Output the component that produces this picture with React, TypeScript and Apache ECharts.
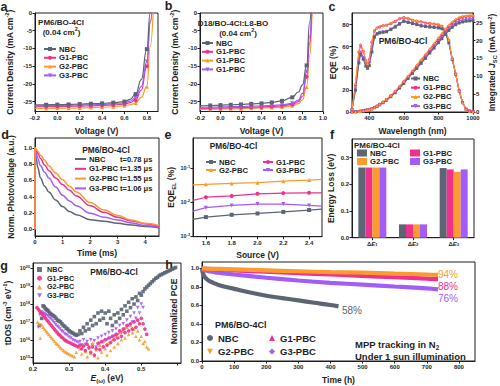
import React, { useEffect, useRef } from 'react';
import * as echarts from 'echarts';

const FONT = '"Liberation Sans", Arial, Helvetica, sans-serif';
const INK = '#1e1e1e';
const C_NBC = '#5b6573';
const C_G1 = '#f0308c';
const C_G2 = '#fb9b2d';
const C_G3 = '#a35cf7';
const DOWN = 'path://M0,0L10,0L5,9Z';

// ---------- a: J-V PM6/BO-4Cl ----------
const aV = [-0.2, -0.1, 0, 0.1, 0.2, 0.3, 0.4, 0.5, 0.6, 0.65, 0.7, 0.75, 0.8, 0.83, 0.86];
const aNBC = [-25.95, -25.9, -25.85, -25.8, -25.7, -25.6, -25.5, -25.3, -25.0, -24.4, -22.9, -18.8, -10.2, 0.0, 9.0];
const aG1 = [-26.5, -26.45, -26.4, -26.35, -26.3, -26.2, -26.1, -25.95, -25.7, -25.3, -24.6, -21.8, -15.0, -2.5, 9.0];
const aG2 = [-27.0, -26.95, -26.9, -26.85, -26.8, -26.7, -26.6, -26.45, -26.2, -25.9, -25.4, -23.8, -20.8, -9.5, 3.0];
const aG3 = [-26.2, -26.15, -26.1, -26.05, -26.0, -25.9, -25.8, -25.6, -25.35, -24.9, -23.9, -20.8, -13.7, -2.9, 9.0];
const aMarks = [-0.1, 0, 0.1, 0.2, 0.3, 0.4, 0.5, 0.6, 0.7, 0.8];

// ---------- b: J-V D18/BO-4Cl:L8-BO ----------
const bV = [-0.2, -0.1, 0, 0.1, 0.2, 0.3, 0.4, 0.5, 0.6, 0.7, 0.76, 0.8, 0.84, 0.87, 0.9, 0.93];
const bNBC = [-26.2, -26.1, -26.0, -25.9, -25.8, -25.65, -25.5, -25.25, -24.8, -23.8, -22.3, -20.3, -14.8, -2.5, 6, 12];
const bG1 = [-26.9, -26.85, -26.8, -26.75, -26.7, -26.6, -26.5, -26.4, -26.2, -25.8, -25.0, -23.5, -18.0, -8.5, 2, 12];
const bG2 = [-27.2, -27.15, -27.1, -27.05, -27.0, -26.9, -26.8, -26.7, -26.55, -26.2, -25.6, -24.5, -20.9, -12.0, 0, 10];
const bG3 = [-26.6, -26.55, -26.5, -26.45, -26.4, -26.3, -26.2, -26.1, -25.9, -25.5, -24.6, -22.7, -16.5, -6.5, 3.5, 12];
const bMarks = [-0.1, 0, 0.1, 0.2, 0.3, 0.4, 0.5, 0.6, 0.7, 0.84];

// ---------- c: EQE and integrated Jsc ----------
const cWl = [300, 320, 340, 350, 365, 380, 390, 400, 415, 430, 445, 460, 480, 500, 525, 550, 575, 600, 625, 650, 675, 700, 725, 750, 775, 800, 820, 840, 860, 880, 900, 920, 940, 960, 980, 1000];
const cEqeNBC = [2, 20, 45, 53, 48.5, 42, 40, 42.5, 55, 68.5, 71.5, 72.5, 73, 73.5, 75.5, 77.8, 80.5, 83, 82, 81, 80, 78.8, 78.3, 77.8, 77.4, 77, 76.3, 72.6, 63.4, 48, 34.5, 19, 8.5, 2.5, 0.8, 0.3];
const cEqeG1 = [2.5, 25, 55, 61, 55.5, 47, 44, 48, 64, 74.5, 77, 78, 79, 79.5, 81, 83, 85.5, 86.5, 85.5, 84, 83, 82.5, 81.5, 81, 80.5, 79.8, 78.5, 74.8, 65.5, 48.6, 34.8, 19.4, 8.6, 2.5, 0.8, 0.3];
const cEqeG2 = [2.5, 26, 56, 62, 56, 47.5, 44.5, 48.5, 65, 75, 77.5, 78.5, 79.4, 80, 81.5, 83.5, 86, 87, 86, 84.5, 83.5, 83, 82, 81.5, 81, 80.3, 79, 75.2, 66, 49, 35, 19.5, 8.7, 2.6, 0.8, 0.3];
const cEqeG3 = [2, 21, 47, 55, 50, 43.5, 41.5, 44, 57, 69.5, 72, 73, 73.5, 74, 76, 78.5, 81, 83.5, 82.5, 81.5, 80.5, 79.3, 78.8, 78.3, 77.8, 77.5, 76.8, 73, 64, 48.3, 34.6, 19.2, 8.5, 2.5, 0.8, 0.3];
const cJNBC = [0, 0.05, 0.15, 0.2, 0.3, 0.45, 0.5, 0.6, 0.85, 1.2, 1.55, 2.0, 2.6, 3.3, 4.3, 5.4, 6.7, 8.0, 9.4, 10.8, 12.2, 13.6, 15.0, 16.5, 17.9, 19.4, 20.5, 21.7, 22.8, 23.7, 24.4, 24.9, 25.2, 25.4, 25.5, 25.6];
const cJG1 = [0, 0.05, 0.16, 0.22, 0.33, 0.5, 0.56, 0.66, 0.93, 1.3, 1.68, 2.15, 2.8, 3.52, 4.58, 5.75, 7.1, 8.5, 9.95, 11.4, 12.9, 14.4, 15.9, 17.4, 18.9, 20.45, 21.6, 22.85, 23.95, 24.9, 25.6, 26.2, 26.5, 26.7, 26.8, 26.85];
const cJG2 = [0, 0.05, 0.17, 0.23, 0.34, 0.52, 0.58, 0.68, 0.96, 1.34, 1.72, 2.2, 2.86, 3.6, 4.68, 5.88, 7.25, 8.7, 10.15, 11.65, 13.15, 14.7, 16.2, 17.75, 19.3, 20.85, 22.0, 23.25, 24.35, 25.3, 26.0, 26.55, 26.85, 27.0, 27.1, 27.15];
const cJG3 = [0, 0.05, 0.15, 0.2, 0.3, 0.46, 0.52, 0.62, 0.88, 1.23, 1.6, 2.05, 2.67, 3.38, 4.4, 5.55, 6.85, 8.2, 9.6, 11.0, 12.45, 13.9, 15.35, 16.8, 18.3, 19.8, 20.95, 22.15, 23.25, 24.2, 24.9, 25.45, 25.75, 25.95, 26.05, 26.1];

// ---------- d: transient photovoltage ----------
const dT = [0, 0, 0.05, 0.1, 0.2, 0.35, 0.5, 0.75, 1.0, 1.25, 1.5, 2.0, 2.5, 3.0, 3.5, 4.0, 4.5];
const dNBC = [0, 1.0, 0.86, 0.76, 0.63, 0.53, 0.46, 0.36, 0.28, 0.22, 0.18, 0.12, 0.1, 0.075, 0.055, 0.037, 0.022];
const dG1 = [0, 1.0, 0.97, 0.93, 0.87, 0.79, 0.72, 0.63, 0.55, 0.48, 0.41, 0.29, 0.21, 0.15, 0.105, 0.07, 0.037];
const dG2 = [0, 1.0, 0.98, 0.955, 0.91, 0.85, 0.78, 0.69, 0.61, 0.53, 0.46, 0.33, 0.24, 0.17, 0.115, 0.075, 0.047];
const dG3 = [0, 1.0, 0.93, 0.87, 0.78, 0.7, 0.63, 0.52, 0.42, 0.35, 0.29, 0.2, 0.15, 0.115, 0.08, 0.05, 0.028];
const dTau = ['t=0.78 μs', 't=1.35 μs', 't=1.55 μs', 't=1.06 μs'];

// ---------- e: EQE_EL (%) ----------
const eSrc = [1.5, 1.6, 1.8, 2.0, 2.2, 2.4, 2.5];
const eNBC = [0.0031, 0.0036, 0.0042, 0.0046, 0.0051, 0.0058, 0.0062];
const eG1 = [0.0112, 0.0138, 0.0151, 0.0174, 0.0182, 0.0186, 0.0186];
const eG2 = [0.032, 0.033, 0.035, 0.037, 0.041, 0.044, 0.046];
const eG3 = [0.0054, 0.0068, 0.0079, 0.0087, 0.0087, 0.0079, 0.0076];

// ---------- f: energy loss ----------
const fCats = ['ΔE1', 'ΔE2', 'ΔE3'];
const fNBC = [0.263, 0.05, 0.261];
const fG1 = [0.263, 0.05, 0.256];
const fG2 = [0.263, 0.05, 0.247];
const fG3 = [0.263, 0.05, 0.256];

// ---------- g: tDOS (E, log10 tDOS) ----------
const gNBC = [[0.218,16.8],[0.224,17.2],[0.228,17.9],[0.231,17.85],[0.234,17.75],[0.237,17.7],[0.240,17.65],[0.243,17.6],[0.246,17.5],[0.249,17.45],[0.252,17.4],[0.256,17.35],[0.260,17.3],[0.264,17.2],[0.268,17.1],[0.272,17.05],[0.276,17.0],[0.280,16.9],[0.284,16.8],[0.288,16.75],[0.292,16.65],[0.296,16.6],[0.300,16.5],[0.304,16.45],[0.308,16.4],[0.312,16.35],[0.316,16.3],[0.320,16.25],[0.325,16.3],[0.330,16.5],[0.335,16.35],[0.340,16.7],[0.345,16.5],[0.350,16.9],[0.355,16.6],[0.360,17.1],[0.365,16.8],[0.370,17.3],[0.375,16.9],[0.380,17.5],[0.385,17.1],[0.390,17.6],[0.395,17.2],[0.400,17.5],[0.405,16.9],[0.410,17.6],[0.415,17.2],[0.420,16.8],[0.425,17.4],[0.430,17.0],[0.435,17.5],[0.440,17.2],[0.445,17.7],[0.450,17.4],[0.455,17.9],[0.460,17.6],[0.465,18.1],[0.470,17.8],[0.475,18.3],[0.480,18.0],[0.485,18.4],[0.490,18.2],[0.495,18.6],[0.500,18.5],[0.505,18.7],[0.510,18.85],[0.515,18.95],[0.520,19.05],[0.525,19.15],[0.530,19.25],[0.535,19.35],[0.540,19.45],[0.545,19.5],[0.550,19.6],[0.555,19.65],[0.560,19.7],[0.565,19.75],[0.570,19.8],[0.575,19.85],[0.580,19.9],[0.585,19.95],[0.590,20.0],[0.595,20.05]];
const gG1 = [[0.211,17.8],[0.215,17.7],[0.219,17.6],[0.223,17.5],[0.227,17.4],[0.231,17.3],[0.235,17.2],[0.239,17.1],[0.243,17.0],[0.247,16.9],[0.251,16.8],[0.255,16.7],[0.259,16.6],[0.263,16.5],[0.267,16.4],[0.271,16.3],[0.275,16.25],[0.279,16.15],[0.283,16.1],[0.287,16.0],[0.291,15.95],[0.295,15.9],[0.300,15.85],[0.305,15.8],[0.310,15.75],[0.315,15.7],[0.320,15.65],[0.325,15.6],[0.330,15.7],[0.335,15.5],[0.340,15.65],[0.345,15.4],[0.350,15.75],[0.355,15.55],[0.360,15.3],[0.365,15.6],[0.370,15.15],[0.375,15.5],[0.380,15.8],[0.385,15.45],[0.390,15.9],[0.395,15.6],[0.400,16.0],[0.405,15.7],[0.410,16.1],[0.415,15.85],[0.420,16.2],[0.425,16.0],[0.430,16.3],[0.435,16.1],[0.440,16.5],[0.445,16.2],[0.450,16.6],[0.455,16.4],[0.460,16.8],[0.465,16.5],[0.470,16.9],[0.475,16.6],[0.480,17.0],[0.485,16.7],[0.490,17.1],[0.495,16.9],[0.500,17.2],[0.505,16.9],[0.510,16.6],[0.515,16.3]];
const gG2 = [[0.213,17.0],[0.217,16.9],[0.220,16.1],[0.224,16.85],[0.228,16.7],[0.232,16.6],[0.236,16.5],[0.240,16.4],[0.244,16.3],[0.248,16.2],[0.252,16.1],[0.256,16.0],[0.260,15.9],[0.264,15.8],[0.268,15.75],[0.272,15.65],[0.276,15.55],[0.280,15.5],[0.284,15.4],[0.288,15.35],[0.292,15.3],[0.296,15.25],[0.300,15.2],[0.305,15.15],[0.310,15.1],[0.315,15.05],[0.320,15.3],[0.330,15.5],[0.335,15.2],[0.340,15.7],[0.345,15.35],[0.350,15.05],[0.355,15.6],[0.360,15.25],[0.365,15.8],[0.370,15.1],[0.375,15.45],[0.380,15.0],[0.385,15.7],[0.390,15.3],[0.395,15.9],[0.400,15.5],[0.405,15.15],[0.410,15.8],[0.415,15.4],[0.420,16.0],[0.425,15.6],[0.430,16.2],[0.435,15.8],[0.440,16.4],[0.445,16.0],[0.450,16.5],[0.455,16.1],[0.460,16.7],[0.465,16.3],[0.470,16.8],[0.475,16.4],[0.480,16.6],[0.485,16.2],[0.490,16.5],[0.495,16.0],[0.500,16.2],[0.505,15.8],[0.510,15.9],[0.515,15.6],[0.520,15.5]];
const gG3 = [[0.215,16.7],[0.219,17.4],[0.223,17.55],[0.227,17.5],[0.231,17.45],[0.235,17.4],[0.239,17.35],[0.243,17.3],[0.247,17.2],[0.251,17.15],[0.255,17.05],[0.259,16.95],[0.263,16.85],[0.267,16.75],[0.271,16.7],[0.275,16.6],[0.279,16.5],[0.283,16.45],[0.287,16.35],[0.291,16.3],[0.295,16.25],[0.300,16.15],[0.305,16.1],[0.310,16.0],[0.315,15.95],[0.320,15.9],[0.325,15.85],[0.330,15.9],[0.335,15.7],[0.340,16.0],[0.345,15.75],[0.350,15.9],[0.355,15.6],[0.360,16.0],[0.365,15.7],[0.370,15.95],[0.375,15.6],[0.380,16.1],[0.385,15.8],[0.390,16.2],[0.395,15.9],[0.400,16.3],[0.405,16.0],[0.410,16.4],[0.415,16.1],[0.420,16.5],[0.425,16.2],[0.430,16.6],[0.435,16.3],[0.440,16.8],[0.445,16.4],[0.450,16.9],[0.455,16.6],[0.460,17.1],[0.465,16.8],[0.470,17.3],[0.475,17.0],[0.480,17.5],[0.485,17.2],[0.490,17.8],[0.495,17.5],[0.500,18.0],[0.505,17.8]];

// ---------- h: stability ----------
const hNBC = [[0,1.0],[2,0.96],[5,0.93],[10,0.9],[20,0.87],[35,0.845],[50,0.825],[75,0.8],[100,0.78],[150,0.74],[200,0.705],[250,0.68],[300,0.655],[350,0.63],[400,0.605],[425,0.59]];
const hG1 = [[0,1.0],[50,0.99],[100,0.98],[200,0.965],[300,0.95],[400,0.935],[500,0.92],[600,0.905],[700,0.89],[735,0.885]];
const hG2 = [[0,1.0],[50,0.995],[100,0.99],[200,0.98],[300,0.97],[400,0.96],[500,0.955],[600,0.945],[700,0.935],[735,0.93]];
const hG3 = [[0,1.0],[5,0.985],[20,0.97],[50,0.955],[100,0.935],[200,0.9],[300,0.87],[400,0.845],[500,0.825],[600,0.805],[700,0.785],[735,0.775]];
const hEnd = ['94%', '88%', '76%', '58%'];

// ---------- helpers ----------
const pairs = (xs: number[], ys: number[]) => xs.map((x, i) => [x, ys[i]]);
const markSize = (marks: number[], size: number) => {
  const s = new Set(marks.map((m) => m.toFixed(3)));
  return (v: number[]) => (s.has(v[0].toFixed(3)) ? size : 0);
};
const fmt1 = (v: number) => (Math.abs(v) < 1e-9 ? 0 : v).toFixed(1);
const fmtInt = (v: number) => String(Math.round(v));
const fmtPow = (v: number) => `10{sup|${Math.round(v)}}`;

const mkRich = (base: number) => ({
  sup: { fontSize: base * 0.68, fontWeight: 'bold', fontFamily: FONT, color: INK, fill: INK, verticalAlign: 'top', lineHeight: base * 0.7 },
  sub: { fontSize: base * 0.68, fontWeight: 'bold', fontFamily: FONT, color: INK, fill: INK, verticalAlign: 'bottom', lineHeight: base * 0.7 },
  i: { fontSize: base, fontStyle: 'italic', fontWeight: 'bold', fontFamily: FONT, color: INK, fill: INK },
});

const TICK = 6;
const NAME = 8.5;

type AxOpt = {
  grid: number; min?: number; max?: number; name?: string; gap?: number;
  fmt?: (v: any) => string; interval?: number; split?: number;
  hideMin?: boolean; hideMax?: boolean; position?: string; type?: string; data?: string[];
  tick?: number; vertical?: boolean;
};
function ax(o: AxOpt) {
  const t = o.tick ?? TICK;
  return {
    type: o.type ?? 'value',
    gridIndex: o.grid,
    min: o.min,
    max: o.max,
    interval: o.interval,
    splitNumber: o.split,
    data: o.data,
    position: o.position,
    name: o.name,
    nameLocation: 'middle',
    nameGap: o.gap,
    nameRotate: o.vertical ? 90 : 0,
    nameTextStyle: { fontSize: NAME, fontWeight: 'bold', fontFamily: FONT, color: INK, lineHeight: 11, rich: mkRich(NAME) },
    axisLine: { show: true, onZero: false, lineStyle: { color: INK, width: 1 } },
    axisTick: { show: true, length: 2.5, alignWithLabel: true, lineStyle: { color: INK, width: 1 } },
    axisLabel: {
      fontSize: t, fontWeight: 'bold', fontFamily: FONT, color: INK, margin: 3,
      formatter: o.fmt, rich: mkRich(t),
      interval: o.type === 'category' ? 0 : undefined,
      showMinLabel: o.hideMin ? false : undefined,
      showMaxLabel: o.hideMax ? false : undefined,
    },
    splitLine: { show: false },
  };
}

const grid = (left: number, top: number, width: number, height: number) => ({
  left, top, width, height, show: true, borderColor: INK, borderWidth: 1, backgroundColor: 'transparent',
});

function line(name: string, xi: number, yi: number, data: any[], color: string, symbol: string, size: any, width = 1.2, extra: any = {}) {
  return {
    type: 'line', name, xAxisIndex: xi, yAxisIndex: yi, data,
    symbol, symbolSize: size, showSymbol: true,
    lineStyle: { color, width }, itemStyle: { color, borderWidth: 0 },
    clip: true, silent: true, ...extra,
  };
}

function legend(left: number, top: number, names: any[], o: any = {}) {
  return {
    left, top, orient: 'vertical', padding: 0, itemGap: o.gap ?? 1,
    itemWidth: o.w ?? 12, itemHeight: o.h ?? 5, icon: o.icon,
    selectedMode: false, data: names,
    formatter: (n: string) => n.split('|')[0],
    textStyle: { fontSize: o.fs ?? 7.7, fontWeight: 'bold', fontFamily: FONT, color: INK, padding: o.pad ?? [0, 0, 0, -2] },
  };
}

function txt(text: string, x: number, y: number, o: any = {}) {
  const fs = o.fs ?? 8.5;
  const color = o.color ?? INK;
  return {
    type: 'text', x, y, silent: true,
    style: {
      text, fontSize: fs, fontWeight: o.weight ?? 'bold', fontFamily: FONT, fill: color,
      align: o.align ?? 'center', verticalAlign: 'middle', lineHeight: fs + 3,
      rich: {
        sup: { fontSize: fs * 0.68, fontWeight: o.weight ?? 'bold', fontFamily: FONT, fill: color, verticalAlign: 'top', lineHeight: fs * 0.7 },
        sub: { fontSize: fs * 0.68, fontWeight: o.weight ?? 'bold', fontFamily: FONT, fill: color, verticalAlign: 'bottom', lineHeight: fs * 0.7 },
      },
    },
  };
}

function buildOption() {
  const aSize = markSize(aMarks, 4);
  const bSize = markSize(bMarks, 4);
  const eSize = (_v: any, p: any) => (p.dataIndex > 0 && p.dataIndex < eSrc.length - 1 ? 4 : 0);
  const lg = (v: number) => Math.log10(v);

  const xAxis = [
    ax({ grid: 0, min: -0.2, max: 0.9, interval: 0.2, fmt: fmt1, hideMax: true, name: 'Voltage (V)', gap: 13.5 }),
    ax({ grid: 1, min: -0.2, max: 1.0, interval: 0.2, fmt: fmt1, name: 'Voltage (V)', gap: 13.5 }),
    ax({ grid: 2, min: 300, max: 1000, split: 3, fmt: fmtInt, hideMin: true, name: 'Wavelength (nm)', gap: 13 }),
    ax({ grid: 3, min: 0, max: 4.5, interval: 1, fmt: fmtInt, hideMax: true, name: 'Time (ms)', gap: 11 }),
    ax({ grid: 4, min: 1.5, max: 2.5, split: 5, fmt: fmt1, hideMin: true, hideMax: true, name: 'Source (V)', gap: 12.5 }),
    ax({ grid: 5, type: 'category', data: fCats, fmt: (s: string) => `Δ{i|E}{sub|${s.slice(2)}}` }),
    ax({ grid: 6, min: 0.2, max: 0.61, interval: 0.1, fmt: (v: number) => (v > 0.55 ? '' : fmt1(v)), hideMax: true, name: '{i|E}{sub|(ω)} (eV)', gap: 9 }),
    ax({ grid: 7, min: 0, max: 850, interval: 100, fmt: fmtInt, hideMax: true, name: 'Time (h)', gap: 13 }),
  ];

  const yAxis = [
    ax({ grid: 0, min: -27.8, max: 0, split: 5, fmt: fmtInt, hideMin: true, vertical: true, name: 'Current Density (mA cm{sup|-2})', gap: 20 }),
    ax({ grid: 1, min: -27.8, max: 0, split: 5, fmt: fmtInt, hideMin: true, vertical: true, name: 'Current Density (mA cm{sup|-2})', gap: 20 }),
    ax({ grid: 2, min: 0, max: 90.7, interval: 20, fmt: fmtInt, hideMax: true, vertical: true, name: 'EQE (%)', gap: 12.5 }),
    ax({ grid: 2, min: 0, max: 27.7, interval: 5, fmt: fmtInt, hideMax: true, vertical: true, position: 'right', name: 'Integrated {i|J}{sub|SC} (mA cm{sup|-2})', gap: 12.5 }),
    ax({ grid: 3, min: -0.08, max: 1.12, split: 6, fmt: fmt1, hideMin: true, hideMax: true, vertical: true, name: 'Norm. Photovoltage (a.u.)', gap: 19 }),
    ax({ grid: 4, min: -3.02, max: -0.12, split: 3, fmt: fmtPow, tick: 5.5, hideMin: true, hideMax: true, vertical: true, name: 'EQE{sub|EL} (%)', gap: 10.5 }),
    ax({ grid: 5, min: 0, max: 0.37, interval: 0.1, fmt: fmt1, hideMax: true, vertical: true, name: 'Energy Loss (eV)', gap: 14.5 }),
    ax({ grid: 6, min: 14.7, max: 20.3, split: 5, fmt: fmtPow, tick: 5.5, hideMin: true, hideMax: true, vertical: true, name: 'tDOS (cm{sup|-3} eV{sup|-1})', gap: 20 }),
    ax({ grid: 7, min: 0, max: 1.07, interval: 0.2, fmt: fmt1, hideMax: true, vertical: true, name: 'Normalized PCE', gap: 12.5 }),
  ];

  const series: any[] = [
    // a
    line('G2-PBC|a', 0, 0, pairs(aV, aG2), C_G2, 'triangle', aSize, 1.2, { smooth: 0.5, smoothMonotone: 'x' }),
    line('G1-PBC|a', 0, 0, pairs(aV, aG1), C_G1, 'circle', aSize, 1.2, { smooth: 0.5, smoothMonotone: 'x' }),
    line('G3-PBC|a', 0, 0, pairs(aV, aG3), C_G3, DOWN, aSize, 1.2, { smooth: 0.5, smoothMonotone: 'x' }),
    line('NBC|a', 0, 0, pairs(aV, aNBC), C_NBC, 'rect', aSize, 1.2, { smooth: 0.5, smoothMonotone: 'x' }),
    // b
    line('G1-PBC|b3', 1, 1, pairs(bV, bG2), C_G2, 'triangle', bSize, 1.2, { smooth: 0.5, smoothMonotone: 'x' }),
    line('G1-PBC|b', 1, 1, pairs(bV, bG1), C_G1, 'circle', bSize, 1.2, { smooth: 0.5, smoothMonotone: 'x' }),
    line('G1-PBC|b4', 1, 1, pairs(bV, bG3), C_G3, DOWN, bSize, 1.2, { smooth: 0.5, smoothMonotone: 'x' }),
    line('NBC|b', 1, 1, pairs(bV, bNBC), C_NBC, 'rect', bSize, 1.2, { smooth: 0.5, smoothMonotone: 'x' }),
    // c EQE
    line('G3-PBC|c', 2, 2, pairs(cWl, cEqeG3), C_G3, DOWN, 3, 1.1),
    line('NBC|c', 2, 2, pairs(cWl, cEqeNBC), C_NBC, 'rect', 3, 1.1),
    line('G1-PBC|c', 2, 2, pairs(cWl, cEqeG1), C_G1, 'circle', 3, 1.1),
    line('G2-PBC|c', 2, 2, pairs(cWl, cEqeG2), C_G2, 'triangle', 3, 1.1),
    // c Jsc
    line('G3-PBC|cj', 2, 3, pairs(cWl, cJG3), C_G3, DOWN, 3, 1.1),
    line('NBC|cj', 2, 3, pairs(cWl, cJNBC), C_NBC, 'rect', 3, 1.1),
    line('G1-PBC|cj', 2, 3, pairs(cWl, cJG1), C_G1, 'circle', 3, 1.1),
    line('G2-PBC|cj', 2, 3, pairs(cWl, cJG2), C_G2, 'triangle', 3, 1.1),
    // d
    line('NBC|d', 3, 4, pairs(dT, dNBC), C_NBC, 'none', 0, 1.5, { smooth: 0.4, smoothMonotone: 'x' }),
    line('G3-PBC|d', 3, 4, pairs(dT, dG3), C_G3, 'none', 0, 1.5, { smooth: 0.4, smoothMonotone: 'x' }),
    line('G1-PBC|d', 3, 4, pairs(dT, dG1), C_G1, 'none', 0, 1.5, { smooth: 0.4, smoothMonotone: 'x' }),
    line('G2-PBC|d', 3, 4, pairs(dT, dG2), C_G2, 'none', 0, 1.5, { smooth: 0.4, smoothMonotone: 'x' }),
    // e
    line('NBC|e', 4, 5, eSrc.map((x, i) => [x, lg(eNBC[i])]), C_NBC, 'rect', eSize, 1.2),
    line('G3-PBC|e', 4, 5, eSrc.map((x, i) => [x, lg(eG3[i])]), C_G3, DOWN, eSize, 1.2),
    line('G1-PBC|e', 4, 5, eSrc.map((x, i) => [x, lg(eG1[i])]), C_G1, 'circle', eSize, 1.2),
    line('G2-PBC|e', 4, 5, eSrc.map((x, i) => [x, lg(eG2[i])]), C_G2, 'triangle', eSize, 1.2),
    // f
    ...[['NBC|f', fNBC, C_NBC], ['G1-PBC|f', fG1, C_G1], ['G2-PBC|f', fG2, C_G2], ['G3-PBC|f', fG3, C_G3]].map(([n, d, c]: any) => ({
      type: 'bar', name: n, xAxisIndex: 5, yAxisIndex: 6, data: d, barWidth: 7, barGap: '0%',
      itemStyle: { color: c }, silent: true,
    })),
    // g
    ...[['NBC|g', gNBC, C_NBC, 'rect'], ['G3-PBC|g', gG3, C_G3, DOWN], ['G2-PBC|g', gG2, C_G2, 'triangle'], ['G1-PBC|g', gG1, C_G1, 'circle']].map(([n, d, c, s]: any) => ({
      type: 'scatter', name: n, xAxisIndex: 6, yAxisIndex: 7, data: d, symbol: s, symbolSize: 3.6,
      itemStyle: { color: c, opacity: 0.9 }, silent: true, clip: true,
    })),
    // h
    line('NBC|h', 7, 8, hNBC, C_NBC, 'none', 0, 4.2, { smooth: 0.4 }),
    line('G3-PBC|h', 7, 8, hG3, C_G3, 'none', 0, 4.2, { smooth: 0.4 }),
    line('G1-PBC|h', 7, 8, hG1, C_G1, 'none', 0, 4.2, { smooth: 0.4 }),
    line('G2-PBC|h', 7, 8, hG2, C_G2, 'none', 0, 4.2, { smooth: 0.4 }),
  ];

  const legends = [
    legend(43, 45, ['NBC|a', 'G1-PBC|a', 'G2-PBC|a', 'G3-PBC|a'], { gap: 0.8, fs: 7.7 }),
    legend(201, 39, ['NBC|b', 'G1-PBC|b', 'G1-PBC|b3', 'G1-PBC|b4'], { gap: 0.8, w: 11 }),
    legend(410, 74.5, ['NBC|c', 'G1-PBC|c', 'G2-PBC|c', 'G3-PBC|c'], { gap: 1.2, w: 9, fs: 7.5 }),
    legend(75, 155, ['NBC|d', 'G1-PBC|d', 'G2-PBC|d', 'G3-PBC|d'], { gap: 1.8, w: 11, h: 2, icon: 'rect' }),
    legend(205, 158, ['NBC|e', 'G2-PBC|e'], { gap: 0, w: 10 }),
    legend(262, 158, ['G1-PBC|e', 'G3-PBC|e'], { gap: 0, w: 10 }),
    legend(357, 149, ['NBC|f', 'G2-PBC|f'], { gap: 0.5, w: 10, h: 7, icon: 'rect' }),
    legend(410, 149, ['G1-PBC|f', 'G3-PBC|f'], { gap: 0.5, w: 10, h: 7, icon: 'rect' }),
    legend(37, 266, ['NBC|g', 'G1-PBC|g', 'G2-PBC|g', 'G3-PBC|g'], { gap: 1.7, w: 5, h: 5, fs: 7.2, pad: [0, 0, 0, 0] }),
    legend(207, 333, [{ name: 'NBC|h', icon: 'circle' }, { name: 'G2-PBC|h', icon: DOWN }], { gap: 3.5, w: 6, h: 6, fs: 9.5, pad: [0, 0, 0, 0] }),
    legend(269, 333, [{ name: 'G1-PBC|h', icon: 'triangle' }, { name: 'G3-PBC|h', icon: 'diamond' }], { gap: 3.5, w: 6, h: 6, fs: 9.5, pad: [0, 0, 0, 0] }),
  ];

  const letters: [string, number, number][] = [['a', 4, 7], ['b', 168.5, 6], ['c', 332, 7], ['d', 5, 135], ['e', 168, 135], ['f', 332, 135], ['g', 4, 266], ['h', 169, 265]];
  const graphics: any[] = [
    ...letters.map(([t, x, y]) => txt(t, x, y, { fs: 12.5 })),
    txt('PM6/BO-4Cl', 61, 22, { fs: 8 }),
    txt('(0.04 cm{sup|2})', 61.5, 32, { fs: 8 }),
    txt('D18/BO-4Cl:L8-BO', 233, 23, { fs: 8 }),
    txt('(0.04 cm{sup|2})', 238, 33, { fs: 8 }),
    txt('PM6/BO-4Cl', 403, 41, { fs: 8.5 }),
    txt('PM6/BO-4Cl', 106, 150, { fs: 8.3 }),
    ...dTau.map((t, i) => txt(t, 120, 159 + i * 9.8, { fs: 7.5, align: 'left' })),
    txt('PM6/BO-4Cl', 233.5, 146, { fs: 8.3 }),
    txt('PM6/BO-4Cl', 354, 145, { fs: 8, align: 'left' }),
    txt('PM6/BO-4Cl', 114, 272, { fs: 8.3 }),
    txt('PM6/BO-4Cl', 215, 325, { fs: 9, align: 'left' }),
    txt('MPP tracking in N{sub|2}', 355, 344, { fs: 9.5, align: 'left' }),
    txt('Under 1 sun illumination', 355, 356, { fs: 9.5, align: 'left' }),
    txt(hEnd[0], 438, 274, { fs: 10, align: 'left', color: C_G2, weight: 'normal' }),
    txt(hEnd[1], 438, 286, { fs: 10, align: 'left', color: C_G1, weight: 'normal' }),
    txt(hEnd[2], 438, 298, { fs: 10, align: 'left', color: C_G3, weight: 'normal' }),
    txt(hEnd[3], 342, 310, { fs: 10, align: 'left', color: C_NBC, weight: 'normal' }),
  ];

  return {
    animation: false,
    backgroundColor: '#ffffff',
    textStyle: { fontFamily: FONT, fontWeight: 'bold' },
    grid: [
      grid(35, 13, 123, 98.5),
      grid(200, 13, 123, 98.5),
      grid(352, 13, 121, 99),
      grid(35, 138, 124, 98),
      grid(193, 138, 129, 98.7),
      grid(352, 139, 122, 98.7),
      grid(33, 263, 148, 100),
      grid(202, 262, 273, 100.3),
    ],
    xAxis,
    yAxis,
    legend: legends,
    series,
    graphic: { elements: graphics },
  };
}

export default function App() {
  const ref = useRef<HTMLDivElement>(null);
  useEffect(() => {
    if (!ref.current) return;
    const chart = echarts.init(ref.current, undefined, { renderer: 'svg', width: 500, height: 386 });
    chart.setOption(buildOption() as any);
    return () => chart.dispose();
  }, []);
  return <div ref={ref} style={{ position: 'absolute', left: 0, top: 0, width: 500, height: 386, background: '#fff' }} />;
}
